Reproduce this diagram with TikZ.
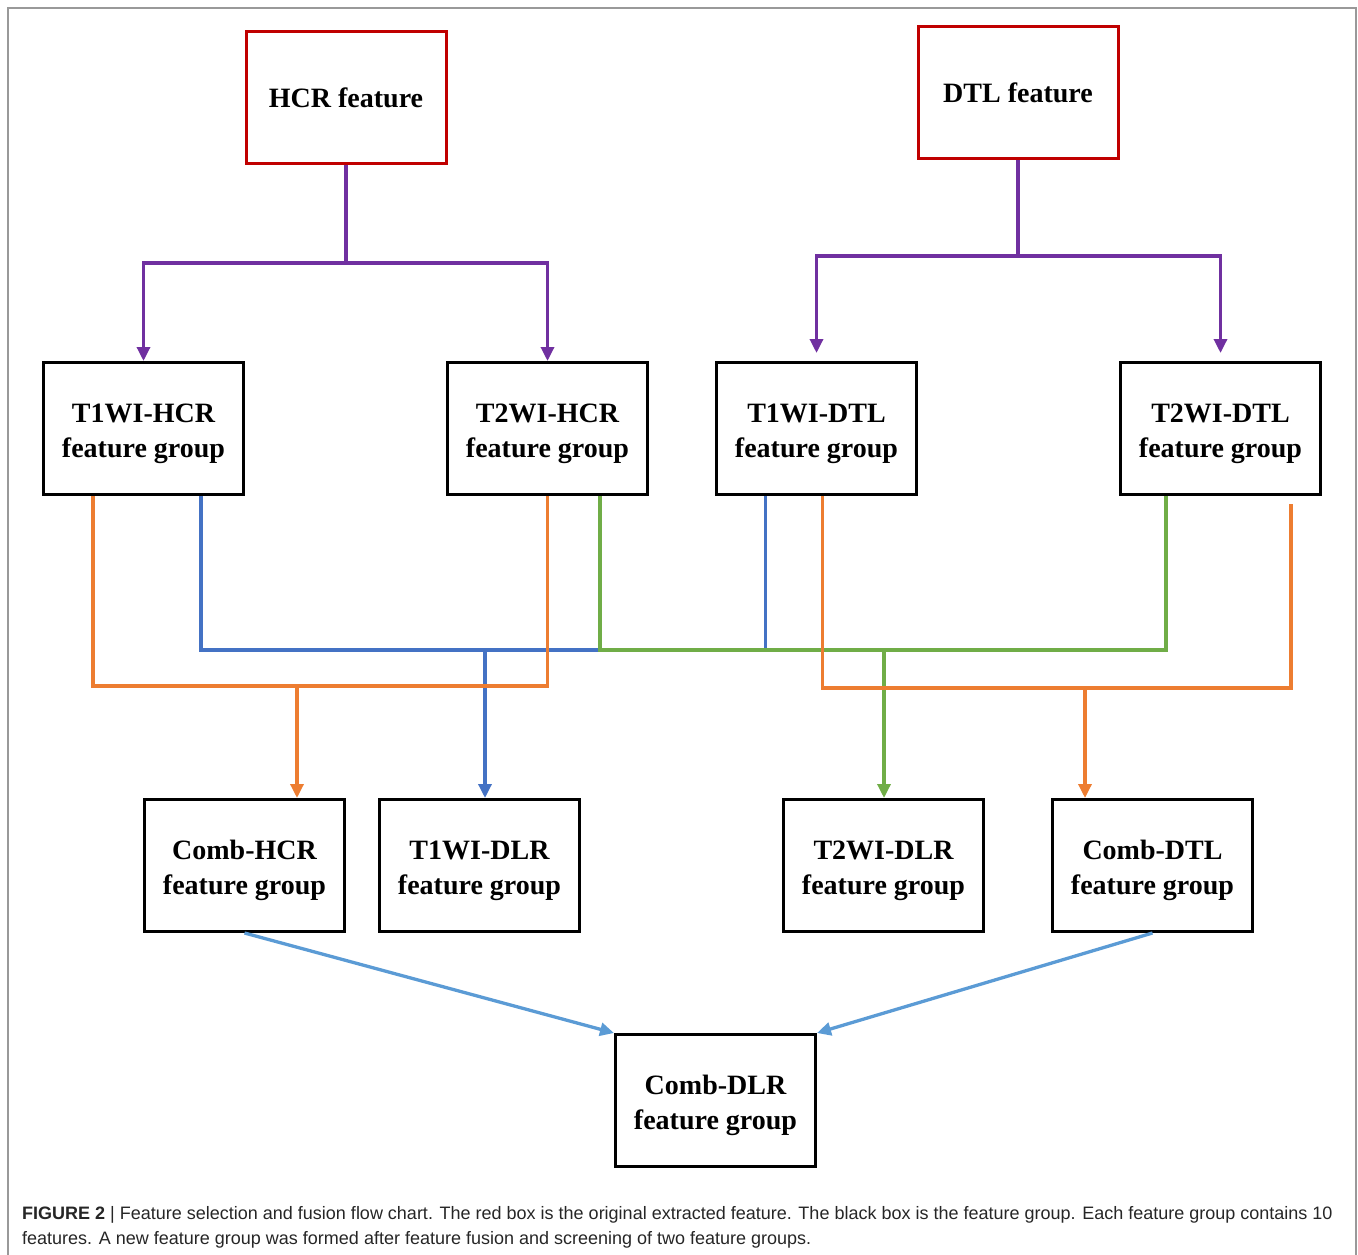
\documentclass[tikz,border=0pt]{standalone}
\usepackage{fontspec}
\setmainfont{Liberation Serif}
\newfontfamily\capfont{Liberation Sans}
\usetikzlibrary{arrows.meta,positioning,calc}

\definecolor{boxred}{HTML}{C00000}
\definecolor{lnpurple}{HTML}{7030A0}
\definecolor{lnorange}{HTML}{ED7D31}
\definecolor{lnblue}{HTML}{4472C4}
\definecolor{lngreen}{HTML}{70AD47}
\definecolor{lnsky}{HTML}{5B9BD5}

% two-line group label, pushed a little below the centre
\newcommand{\featgroup}[1]{\rule{0pt}{29pt}#1\\feature group}

\begin{document}
\begin{tikzpicture}[x=1pt,y=-1pt,>={Triangle[length=14pt,width=13pt]},
  featbox/.style={draw,line width=3pt,minimum width=200pt,minimum height=132pt,align=center,
    font=\fontsize{28}{35}\selectfont\bfseries},
  origbox/.style={featbox,draw=boxred},
  conn/.style={line width=3.3pt}]
\useasboundingbox (0,0) rectangle (1358,1255);
\draw[line width=1.5pt,gray!80] (8,1255) -- (8,8) -- (1356,8) -- (1356,1255);

% original features
\node[origbox] (hcr) at (346,97.5) {HCR feature};
\node[origbox] (dtl) at (1018,92.5) {DTL feature};

% feature groups
\node[featbox] (t1hcr) at (143.5,428.5) {\featgroup{T1WI-HCR}};
\node[featbox,right=201pt of t1hcr] (t2hcr) {\featgroup{T2WI-HCR}};
\node[featbox,right=66pt of t2hcr] (t1dtl) {\featgroup{T1WI-DTL}};
\node[featbox,right=201pt of t1dtl] (t2dtl) {\featgroup{T2WI-DTL}};

% fused groups
\node[featbox] (combhcr) at (244.5,865.5) {\featgroup{Comb-HCR}};
\node[featbox,right=32pt of combhcr] (t1dlr) {\featgroup{T1WI-DLR}};
\node[featbox] (t2dlr) at (883.5,865.5) {\featgroup{T2WI-DLR}};
\node[featbox,right=66pt of t2dlr] (combdtl) {\featgroup{Comb-DTL}};
\node[featbox] (combdlr) at (715.5,1100.5) {\featgroup{Comb-DLR}};

% junctions
\coordinate (hcrj) at (346,263);
\coordinate (dtlj) at (1018,256);
\coordinate (jch) at (297,686);
\coordinate (jdl1) at (485,650);
\coordinate (jdl2) at (884,650);
\coordinate (jcd) at (1085,688);

\draw[conn,lnpurple] (hcr.south) -- (hcrj);
\draw[conn,lnpurple,->] (hcrj) -| (t1hcr.north);
\draw[conn,lnpurple,->] (hcrj) -| (t2hcr.north);
\draw[conn,lnpurple] (dtl.south) -- (dtlj);
\draw[conn,lnpurple,->,shorten >=8pt] (dtlj) -| (t1dtl.north);
\draw[conn,lnpurple,->,shorten >=8pt] (dtlj) -| (t2dtl.north);

\draw[conn,lnblue] ([xshift=57.5pt]t1hcr.south) |- (jdl1);
\draw[conn,lnblue] ([xshift=-51pt]t1dtl.south) |- (jdl1);
\draw[conn,lnblue,->] (jdl1) -- (t1dlr.north -| jdl1);

\draw[conn,lngreen] ([xshift=52.5pt]t2hcr.south) |- (jdl2);
\draw[conn,lngreen] ([xshift=-54.5pt]t2dtl.south) |- (jdl2);
\draw[conn,lngreen,->] (jdl2) -- (t2dlr.north -| jdl2);

\draw[conn,lnorange] ([xshift=-50.5pt]t1hcr.south) |- (jch);
\draw[conn,lnorange] (t2hcr.south) |- (jch);
\draw[conn,lnorange,->] (jch) -- (combhcr.north -| jch);
\draw[conn,lnorange] ([xshift=6pt]t1dtl.south) |- (jcd);
\draw[conn,lnorange] ([xshift=70.5pt,yshift=-8pt]t2dtl.south) |- (jcd);
\draw[conn,lnorange,->] (jcd) -- (combdtl.north -| jcd);

\draw[conn,lnsky,->] (combhcr.south) -- (combdlr.north west);
\draw[conn,lnsky,->] (combdtl.south) -- (combdlr.north east);

% caption
\node[anchor=base west,inner sep=0pt,text=black!85,font=\capfont\fontsize{18}{21}\selectfont] (cap1) at (22,1219)
  {\textbf{FIGURE 2} | Feature selection and fusion flow chart. The red box is the original extracted feature. The black box is the feature group. Each feature group contains 10};
\node[anchor=base west,inner sep=0pt,text=black!85,font=\capfont\fontsize{18}{21}\selectfont] (cap2) at (22,1244)
  {features. A new feature group was formed after feature fusion and screening of two feature groups.};
\end{tikzpicture}
\end{document}
